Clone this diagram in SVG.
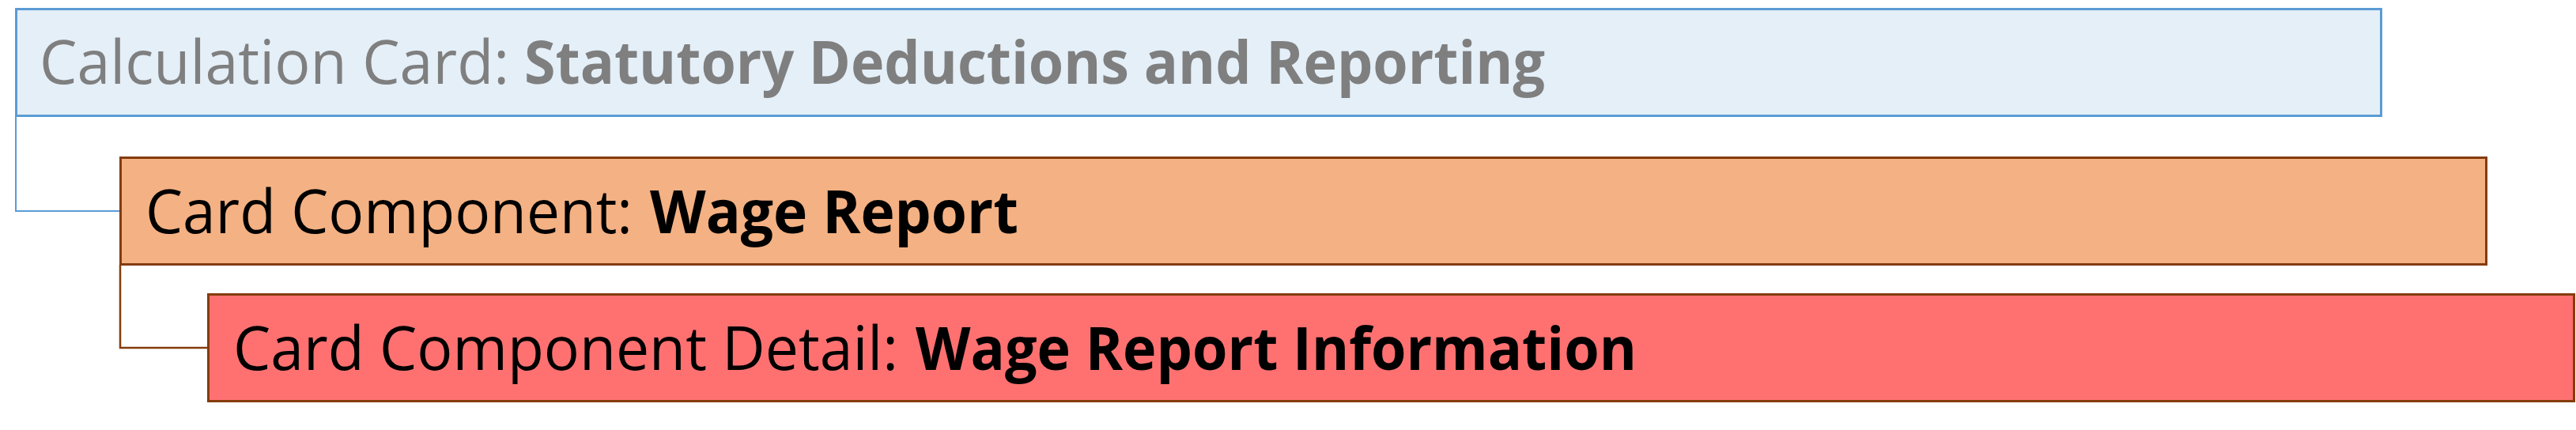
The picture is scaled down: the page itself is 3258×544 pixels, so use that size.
<svg xmlns="http://www.w3.org/2000/svg" width="3258" height="544" viewBox="0 0 3258 544">
<style>
.box{stroke-width:3}
.lbl{font-family:"Open Sans","Noto Sans","DejaVu Sans",sans-serif;font-size:76px}
.b{font-weight:bold}
.conn{fill:none}
</style>
<rect width="3258" height="544" fill="#ffffff"/>
<g id="connectors">
<path class="conn" d="M20 147 V267 H152" stroke="#5B9BD5" stroke-width="2"/>
<path class="conn" d="M152 335 V440 H263" stroke="#843C0C" stroke-width="2.5"/>
</g>
<g id="node-calculation-card">
<rect class="box" x="20.5" y="11.5" width="2991" height="135" fill="#E4EFF8" stroke="#5B9BD5"/>
<text class="lbl" x="50" y="106" fill="#7F7F7F" textLength="594" lengthAdjust="spacingAndGlyphs">Calculation Card:</text>
<text class="lbl b" x="663" y="106" fill="#7F7F7F" textLength="1291" lengthAdjust="spacingAndGlyphs">Statutory Deductions and Reporting</text>
</g>
<g id="node-card-component">
<rect class="box" x="152.5" y="199.5" width="2992" height="135" fill="#F4B183" stroke="#843C0C"/>
<text class="lbl" x="184" y="295" fill="#000000" textLength="616" lengthAdjust="spacingAndGlyphs">Card Component:</text>
<text class="lbl b" x="822" y="295" fill="#000000" textLength="466" lengthAdjust="spacingAndGlyphs">Wage Report</text>
</g>
<g id="node-card-component-detail">
<rect class="box" x="263.5" y="372.5" width="2992" height="135" fill="#FF7171" stroke="#843C0C"/>
<text class="lbl" x="295" y="468" fill="#000000" textLength="841" lengthAdjust="spacingAndGlyphs">Card Component Detail:</text>
<text class="lbl b" x="1158" y="468" fill="#000000" textLength="912" lengthAdjust="spacingAndGlyphs">Wage Report Information</text>
</g>
</svg>
